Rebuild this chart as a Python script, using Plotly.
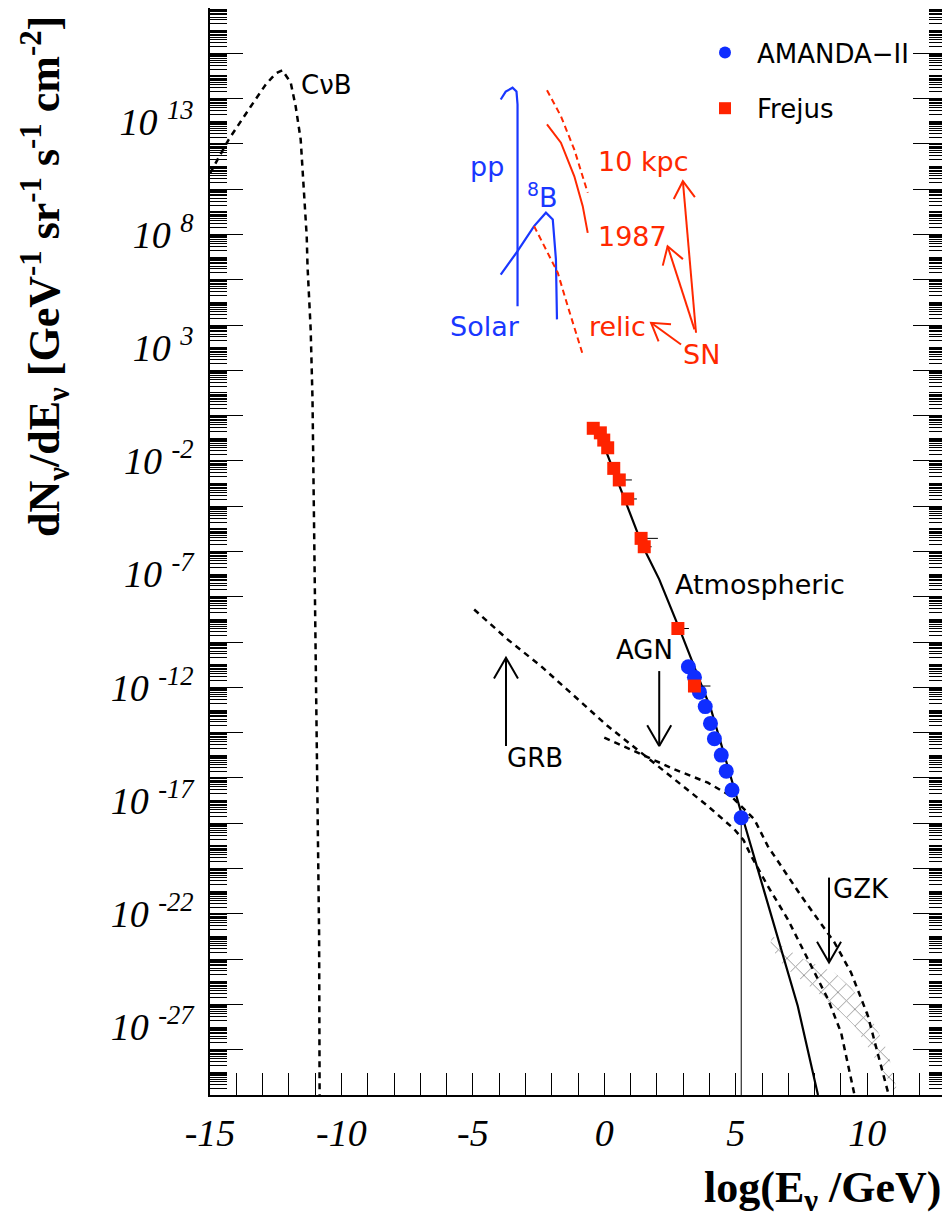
import math
import plotly.graph_objects as go

# ---------------- data (x = log10(E/GeV), d = log10 of flux) ----------------
cnub_x = [-15.0, -14.29, -13.45, -12.88, -12.50, -12.25, -11.93, -11.74, -11.55, -11.44, -11.32,
          -11.29, -11.17, -11.10, -11.04, -10.98, -10.91, -10.85, -10.83]
cnub_d = [10.7, 12.19, 13.65, 14.62, 15.11, 15.25, 14.71, 13.65, 12.19, 9.99, 7.91,
          6.60, 3.81, 0.72, -5.17, -11.06, -17.68, -22.83, -30.0]

pp_x = [-3.94, -3.75, -3.49, -3.34, -3.30, -3.30]
pp_d = [13.96, 14.31, 14.48, 14.31, 13.74, 4.83]

b8_x = [-3.94, -3.30, -2.67, -2.22, -1.96, -1.84, -1.80]
b8_d = [6.23, 7.26, 8.37, 8.96, 8.66, 6.90, 4.25]

sn10_x = [-2.18, -1.65, -1.14, -0.76, -0.63]
sn10_d = [14.37, 13.22, 11.75, 10.28, 9.84]

sn87_x = [-2.18, -1.65, -1.14, -0.82, -0.63]
sn87_d = [12.86, 12.05, 10.57, 9.25, 8.07]

relic_x = [-2.67, -2.16, -1.77, -1.39, -1.08, -0.82]
relic_d = [8.37, 7.19, 6.31, 4.83, 3.66, 2.70]

atm_x = [0.03, 1.46, 2.09, 2.92, 4.06, 5.21, 6.60, 7.36, 8.13]
atm_d = [-1.46, -5.76, -7.23, -9.59, -12.97, -17.53, -23.12, -26.07, -30.0]

grb_x = [-4.95, -3.68, -2.41, -1.14, 0.13, 1.40, 2.67, 3.94, 4.95, 5.30, 5.59, 6.22, 6.98, 7.75, 8.51, 9.01, 9.52]
grb_d = [-8.56, -9.88, -11.06, -12.38, -13.71, -14.88, -16.06, -17.24, -18.27, -18.75, -19.45, -20.77,
         -22.24, -24.01, -25.77, -27.25, -30.0]

agn_x = [0.00, 1.65, 2.67, 3.94, 4.82, 5.71, 6.22, 7.49, 8.76, 9.39, 10.03, 10.82]
agn_d = [-14.22, -15.10, -15.62, -16.21, -16.80, -17.83, -19.01, -21.21, -23.27, -24.60, -26.51, -30.0]

gzk_up_x = [6.40, 6.60, 7.49, 8.76, 9.39, 10.03, 10.79, 11.17]
gzk_up_d = [-22.9, -23.30, -23.95, -24.60, -25.25, -26.30, -28.10, -29.95]
gzk_lo_x = [6.30, 6.85, 7.87, 8.76, 9.52, 10.16, 10.79, 11.04]
gzk_lo_d = [-23.40, -24.35, -25.25, -26.10, -26.95, -28.13, -29.31, -29.95]

frejus_x = [-0.42, -0.15, -0.02, 0.13, 0.36, 0.57, 0.89, 1.40, 1.52, 2.80, 3.43]
frejus_d = [-0.56, -0.76, -1.08, -1.42, -2.33, -2.84, -3.68, -5.42, -5.79, -9.40, -11.94]
frejus_ex_plus = [0, 0, 0, 0, 0, 0.48, 0.35, 0.64, 0.28, 0.42, 0.61]
frejus_ex_minus = [0, 0, 0, 0, 0, 0.2, 0.2, 0.2, 0.2, 0.22, 0.2]

amanda_x = [3.20, 3.43, 3.62, 3.84, 4.04, 4.19, 4.45, 4.64, 4.86, 5.21]
amanda_d = [-11.09, -11.55, -12.21, -12.85, -13.59, -14.27, -14.99, -15.70, -16.53, -17.76]
amanda_ex_plus = [0, 0, 0, 0, 0, 0, 0, 0, 0, 0.34]

# arrows: (tail_x, tail_d, tip_x, tip_d)
red_arrows = [(3.49, 3.66, 2.99, 10.35), (3.43, 3.81, 2.41, 7.48), (2.92, 3.14, 1.78, 4.10)]
black_arrows = [(-3.74, -14.59, -3.74, -10.69), (2.09, -11.28, 2.09, -14.59), (8.55, -20.40, 8.55, -24.15)]

x_label_vals = [-15, -10, -5, 0, 5, 10]
y_label_decades = [13, 8, 3, -2, -7, -12, -17, -22, -27]

# ---------------- layout constants ----------------
PAGE_OFF = 8                       # default body margin of the html page
W, H = 950 - PAGE_OFF, 1223 - PAGE_OFF
PX0, PX1, PY0, PY1 = 210, 946, 8, 1095   # plot area in page pixels
ML, MR, MT = PX0 - PAGE_OFF, (PAGE_OFF + W) - PX1, PY0 - PAGE_OFF
MB = (PAGE_OFF + H) - PY1
X_RANGE = [-15, 13]
Y_RANGE = [-30, 18]
KX = (PX1 - PX0) / (X_RANGE[1] - X_RANGE[0])
KY = (PY1 - PY0) / (Y_RANGE[1] - Y_RANGE[0])

BLUE = "rgb(25,55,255)"
RED = "rgb(255,40,0)"
SANS = "DejaVu Sans"
SERIF = "Liberation Serif"


def paper_x(px):
    return (px - PX0) / (PX1 - PX0)


def paper_y(py):
    return (PY1 - py) / (PY1 - PY0)


def p(d):
    return [10.0 ** v for v in d]


def arrow_path(x0, d0, x1, d1, head=22.0, ang=30.0):
    dx, dy = (x1 - x0) * KX, (d1 - d0) * KY
    L = math.hypot(dx, dy)
    vx, vy = -dx / L, -dy / L
    xs, ds = [x0, x1, None], [d0, d1, None]
    arms = []
    for s in (1, -1):
        a = math.radians(ang) * s
        rx = vx * math.cos(a) - vy * math.sin(a)
        ry = vx * math.sin(a) + vy * math.cos(a)
        arms.append((x1 + head * rx / KX, d1 + head * ry / KY))
    xs += [arms[0][0], x1, arms[1][0], None]
    ds += [arms[0][1], d1, arms[1][1], None]
    return xs, ds


fig = go.Figure()

# GZK hatched band
fig.add_trace(go.Scatter(
    x=gzk_up_x + gzk_lo_x[::-1], y=p(gzk_up_d + gzk_lo_d[::-1]),
    mode="lines", line=dict(width=0), fill="toself", fillcolor="rgba(0,0,0,0)",
    fillpattern=dict(shape="x", fgcolor="#8c8c8c", bgcolor="rgba(0,0,0,0)", size=12, solidity=0.14),
    showlegend=False, hoverinfo="skip"))

dash_bk = dict(color="black", width=2.5, dash="6px,5px")
fig.add_trace(go.Scatter(x=cnub_x, y=p(cnub_d), mode="lines", line=dash_bk, showlegend=False))
fig.add_trace(go.Scatter(x=grb_x, y=p(grb_d), mode="lines", line=dash_bk, showlegend=False))
fig.add_trace(go.Scatter(x=agn_x, y=p(agn_d), mode="lines", line=dash_bk, showlegend=False))

# solar
fig.add_trace(go.Scatter(x=pp_x, y=p(pp_d), mode="lines", line=dict(color=BLUE, width=2.2), showlegend=False))
fig.add_trace(go.Scatter(x=b8_x, y=p(b8_d), mode="lines", line=dict(color=BLUE, width=2.2), showlegend=False))

# supernova
fig.add_trace(go.Scatter(x=sn10_x, y=p(sn10_d), mode="lines", line=dict(color=RED, width=2, dash="6px,4px"), showlegend=False))
fig.add_trace(go.Scatter(x=sn87_x, y=p(sn87_d), mode="lines", line=dict(color=RED, width=2), showlegend=False))
fig.add_trace(go.Scatter(x=relic_x, y=p(relic_d), mode="lines", line=dict(color=RED, width=2, dash="6px,4px"), showlegend=False))

# atmospheric
fig.add_trace(go.Scatter(x=atm_x, y=p(atm_d), mode="lines", line=dict(color="black", width=2.2), showlegend=False))

# thin vertical line from last AMANDA point
fig.add_trace(go.Scatter(x=[amanda_x[-1], amanda_x[-1]], y=p([amanda_d[-1], Y_RANGE[0]]),
                         mode="lines", line=dict(color="black", width=1), showlegend=False))

# arrows
for (a, b, c, e) in red_arrows:
    xs, ds = arrow_path(a, b, c, e, head=20, ang=32)
    fig.add_trace(go.Scatter(x=xs, y=[None if v is None else 10.0 ** v for v in ds], mode="lines",
                             line=dict(color=RED, width=2), showlegend=False))
for (a, b, c, e) in black_arrows:
    xs, ds = arrow_path(a, b, c, e, head=24, ang=30)
    fig.add_trace(go.Scatter(x=xs, y=[None if v is None else 10.0 ** v for v in ds], mode="lines",
                             line=dict(color="black", width=2), showlegend=False))

# data points
fig.add_trace(go.Scatter(
    x=amanda_x, y=p(amanda_d), mode="markers", name="AMANDA\u2212II", legendgroup="a",
    marker=dict(symbol="circle", size=15, color="rgb(15,45,255)"),
    error_x=dict(type="data", array=amanda_ex_plus, arrayminus=[0] * len(amanda_x),
                 color="black", thickness=1, width=0)))
fig.add_trace(go.Scatter(
    x=frejus_x, y=p(frejus_d), mode="markers", name="Frejus", legendgroup="f",
    marker=dict(symbol="square", size=13, color="rgb(255,35,0)"),
    error_x=dict(type="data", array=frejus_ex_plus, arrayminus=frejus_ex_minus,
                 color="black", thickness=1, width=0)))

# dummy trace for the tick-only overlay axis
fig.add_trace(go.Scatter(x=[None], y=[None], yaxis="y2", showlegend=False))

# ---------------- text labels ----------------
def lab(text, x, d, color="black", size=26, xanchor="center", family=SANS):
    fig.add_annotation(x=x, y=d, text=text, showarrow=False, xanchor=xanchor, yanchor="middle",
                       font=dict(family=family, size=size, color=color))

lab("C\u03bdB", -11.63, 14.62, xanchor="left")
lab("pp", -4.48, 11.02, color=BLUE, size=27)
lab("<sup>8</sup>B", -2.35, 9.7, color=BLUE, size=27)
lab("Solar", -4.54, 3.95, color=BLUE, size=27)
lab("10 kpc", 1.49, 11.24, color=RED, size=27)
lab("1987", 1.08, 7.92, color=RED, size=27)
lab("relic", 0.51, 3.95, color=RED, size=27)
lab("SN", 3.71, 2.70, color=RED, size=27)
lab("Atmospheric", 2.62, -7.45, xanchor="left", size=27)
lab("AGN", 1.52, -10.37, size=26)
lab("GRB", -2.64, -15.13, size=26)
lab("GZK", 8.63, -20.92, xanchor="left", size=26)

# axis titles
fig.add_annotation(xref="paper", yref="paper", x=paper_x(45), y=paper_y(277),
                   text="dN<sub>\u03bd</sub>/dE<sub>\u03bd</sub> [GeV<sup>-1</sup> sr<sup>-1</sup> s<sup>-1</sup> cm<sup>-2</sup>]",
                   textangle=-90, showarrow=False, xanchor="center", yanchor="middle",
                   font=dict(family=SERIF, size=44, color="black", weight="bold"))
fig.add_annotation(xref="paper", yref="paper", x=paper_x(943), y=paper_y(1190),
                   text="log(E<sub>\u03bd</sub> /GeV)", showarrow=False, xanchor="right", yanchor="middle",
                   font=dict(family=SERIF, size=44, color="black", weight="bold"))

# ---------------- axes ----------------
x_minor = list(range(X_RANGE[0], X_RANGE[1] + 1))

long_vals = [10.0 ** k for k in range(Y_RANGE[0], Y_RANGE[1] + 1, 2)]
short_vals = []
for k in range(Y_RANGE[0], Y_RANGE[1]):
    if k % 2 != 0:
        short_vals.append(10.0 ** k)
    for m in range(2, 10):
        short_vals.append(m * 10.0 ** k)

fig.update_layout(
    template="none", width=W, height=H,
    margin=dict(l=ML, r=MR, t=MT, b=MB, autoexpand=False),
    paper_bgcolor="white", plot_bgcolor="white",
    showlegend=True,
    legend=dict(x=paper_x(693), y=paper_y(29), xanchor="left", yanchor="top",
                font=dict(family=SANS, size=26, color="black"), bgcolor="rgba(0,0,0,0)",
                tracegroupgap=19, itemsizing="constant", itemwidth=54),
    xaxis=dict(range=X_RANGE, tickmode="array", tickvals=x_label_vals,
               ticktext=[str(v) for v in x_label_vals],
               ticks="inside", ticklen=22, tickwidth=1, tickcolor="black",
               minor=dict(tickmode="array", tickvals=x_minor, ticks="inside", ticklen=22,
                          tickwidth=1, tickcolor="black", showgrid=False),
               showline=True, linecolor="black", linewidth=1.5, mirror=True,
               showgrid=False, zeroline=False, automargin=False, ticklabelstandoff=4,
               tickfont=dict(family=SERIF, size=38, color="black", style="italic")),
    yaxis=dict(type="log", range=Y_RANGE, tickmode="array",
               tickvals=[10.0 ** k for k in y_label_decades],
               ticktext=[f"10 <sup>{k}</sup>" for k in y_label_decades],
               ticks="", showline=True, linecolor="black", linewidth=1.5, mirror=True,
               showgrid=False, zeroline=False, automargin=False, ticklabelstandoff=7,
               tickfont=dict(family=SERIF, size=38, color="black", style="italic")),
    yaxis2=dict(type="log", range=Y_RANGE, overlaying="y", side="left", anchor="x",
                tickmode="array", tickvals=long_vals, ticks="inside", ticklen=33, tickwidth=1,
                tickcolor="black", mirror="ticks", showline=False, showticklabels=False,
                showgrid=False, zeroline=False, automargin=False,
                minor=dict(tickmode="array", tickvals=short_vals, ticks="inside", ticklen=17,
                           tickwidth=1, tickcolor="black", showgrid=False)),
)

fig.write_html("out.html")
